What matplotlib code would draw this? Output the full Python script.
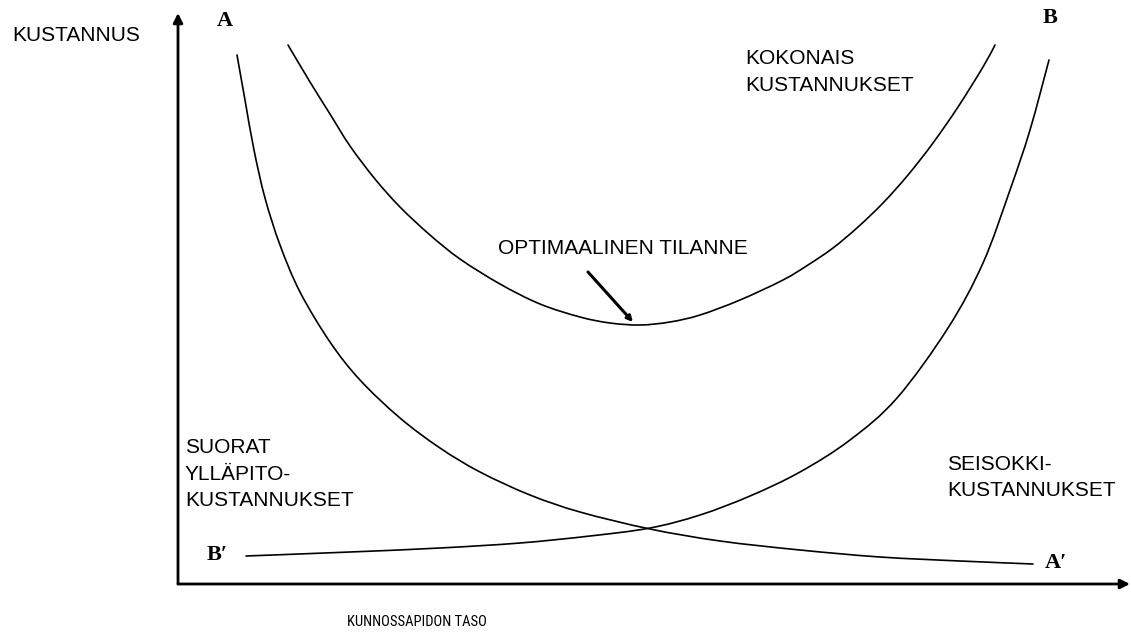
import matplotlib
matplotlib.use("Agg")
import matplotlib.pyplot as plt
from matplotlib import font_manager as fm
from matplotlib.path import Path
from matplotlib.patches import PathPatch

# ---- data (level = maintenance level, cost = cost) ----
total_level = [110, 132, 152, 172, 197, 222, 252, 282, 322, 362, 402, 432, 462,
               492, 522, 562, 605, 630, 655, 680, 705, 730, 755, 780, 805, 817]
total_cost = [539, 502, 470, 438, 405, 377, 349, 325, 300, 280, 267, 261, 259,
              262, 269, 284, 304, 319, 336, 357, 381, 409, 441, 477, 517, 539]

maint_level = [59, 67, 76, 87, 102, 122, 152, 182, 222, 262, 302, 352, 402, 472,
               542, 622, 702, 782, 855]
maint_cost = [529, 484, 434, 386, 339, 292, 242, 204, 166, 136, 112, 89, 72, 55,
              43, 34, 27, 23, 20]

down_level = [68, 172, 262, 342, 412, 472, 522, 572, 622, 672, 719, 770, 805, 832, 852, 871]
down_cost = [28, 32, 36, 41, 48, 56, 69, 88, 112, 144, 186, 256, 321, 394, 454, 524]

optimum_level = 455
optimum_cost = 262

x_label = "KUNNOSSAPIDON TASO"
y_label = "KUSTANNUS"
total_label = "KOKONAIS\nKUSTANNUKSET"
maint_label = "SUORAT\nYLLÄPITO-\nKUSTANNUKSET"
down_label = "SEISOKKI-\nKUSTANNUKSET"
optimum_label = "OPTIMAALINEN TILANNE"

sans = ["Liberation Sans", "DejaVu Sans"]
serif = ["Liberation Serif", "DejaVu Serif"]

# look for a condensed sans face for the horizontal-axis caption
cond_file = None
for f in fm.fontManager.ttflist:
    nm = f.name.lower()
    if ("narrow" in nm or "condensed" in nm or str(f.stretch) in ("condensed", "semi-condensed", "extra-condensed")) \
            and "serif" not in nm and "mono" not in nm and f.style == "normal":
        if cond_file is None or f.weight in (400, "normal", "regular"):
            cond_file = f.fname

W, H = 1131, 634
fig = plt.figure(figsize=(W / 100, H / 100), dpi=100)
fig.patch.set_facecolor("white")
ax = fig.add_axes([178 / W, 50 / H, (1130 - 178) / W, (584 - 13) / H])
ax.set_xlim(0, 952)
ax.set_ylim(0, 571)
ax.axis("off")


def smooth_curve(xs, ys, lw=1.2):
    """Draw a smooth (Catmull-Rom -> cubic Bezier) curve through the points."""
    pts = list(zip(xs, ys))
    n = len(pts)
    verts = [pts[0]]
    codes = [Path.MOVETO]
    for i in range(n - 1):
        p0 = pts[i - 1] if i > 0 else pts[i]
        p1 = pts[i]
        p2 = pts[i + 1]
        p3 = pts[i + 2] if i + 2 < n else pts[i + 1]
        c1 = (p1[0] + (p2[0] - p0[0]) / 6.0, p1[1] + (p2[1] - p0[1]) / 6.0)
        c2 = (p2[0] - (p3[0] - p1[0]) / 6.0, p2[1] - (p3[1] - p1[1]) / 6.0)
        verts += [c1, c2, p2]
        codes += [Path.CURVE4] * 3
    ax.add_patch(PathPatch(Path(verts, codes), fill=False, edgecolor="black",
                           lw=lw, capstyle="round", joinstyle="round"))


smooth_curve(total_level, total_cost)
smooth_curve(maint_level, maint_cost)
smooth_curve(down_level, down_cost)

# axes with arrows
arrow = dict(arrowstyle="-|>", mutation_scale=14, lw=2, color="black",
             shrinkA=0, shrinkB=0)
ax.annotate("", xy=(0, 1), xytext=(0, 0), xycoords="axes fraction",
            textcoords="axes fraction", arrowprops=arrow)
ax.annotate("", xy=(1, 0), xytext=(0, 0), xycoords="axes fraction",
            textcoords="axes fraction", arrowprops=arrow)

fs = 15
ax.text(-166, 549, y_label, fontsize=fs, family=sans, ha="left", va="center", clip_on=False)

if cond_file:
    xl = ax.text(239, -38, x_label, fontproperties=fm.FontProperties(fname=cond_file, size=13),
                 ha="center", va="center", clip_on=False)
else:
    xl = ax.text(239, -38, x_label, fontsize=10, family=sans, ha="center", va="center",
                 clip_on=False)
# fit the caption to roughly the width seen in the reference
fig.canvas.draw()
wpx = xl.get_window_extent().width
xl.set_fontsize(max(8.5, min(15, xl.get_fontsize() * 140.0 / wpx)))

ax.text(567, 535, total_label, fontsize=fs, family=sans, ha="left", va="top", linespacing=1.5)
ax.text(7, 146, maint_label, fontsize=fs, family=sans, ha="left", va="top", linespacing=1.5)
ax.text(769, 129, down_label, fontsize=fs, family=sans, ha="left", va="top", linespacing=1.5)

ax.text(320, 330, optimum_label, fontsize=fs, family=sans, ha="left", va="baseline")
ax.annotate("", xy=(optimum_level, optimum_cost), xytext=(410, 312),
            arrowprops=dict(arrowstyle="-|>", mutation_scale=8, lw=2.2, color="black",
                            shrinkA=0, shrinkB=0))

ax.text(47, 563, "A", fontsize=16, family=serif, weight="bold", ha="center", va="center", clip_on=False)
ax.text(872, 566, "B", fontsize=16, family=serif, weight="bold", ha="center", va="center", clip_on=False)
ax.text(39, 29, "B\u2032", fontsize=16, family=serif, weight="bold", ha="center", va="center", clip_on=False)
ax.text(878, 21, "A\u2032", fontsize=16, family=serif, weight="bold", ha="center", va="center", clip_on=False)

fig.savefig("out.png", dpi=100, facecolor="white")
